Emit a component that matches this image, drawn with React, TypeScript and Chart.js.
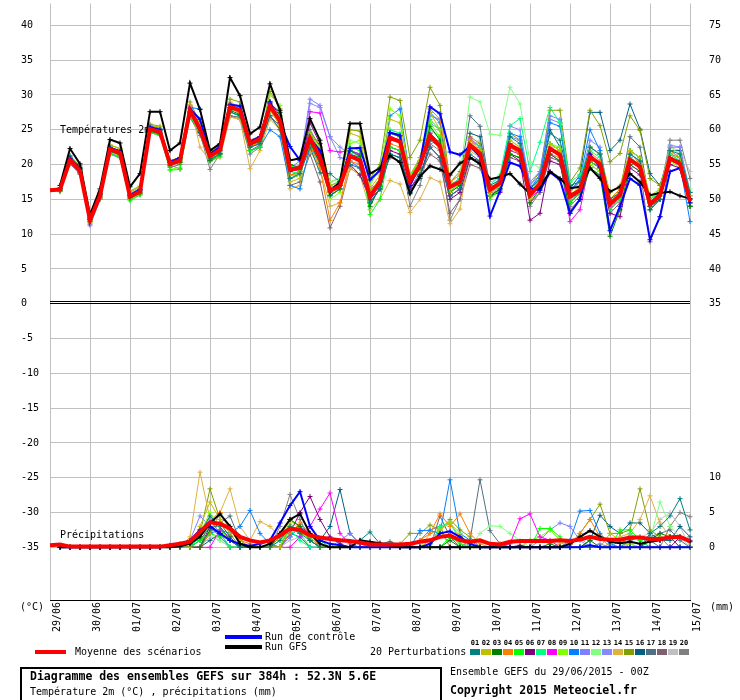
import React, { useEffect, useRef } from 'react';
import { Chart, registerables } from 'chart.js';

Chart.register(...registerables);

// ---------- categories / ticks ----------
const DAYS = ['29/06', '30/06', '01/07', '02/07', '03/07', '04/07', '05/07', '06/07', '07/07', '08/07', '09/07', '10/07', '11/07', '12/07', '13/07', '14/07', '15/07'];
const HOURS = ['00Z', '06Z', '12Z', '18Z'];
const LEFT_TICKS = [40, 35, 30, 25, 20, 15, 10, 5, 0, -5, -10, -15, -20, -25, -30, -35];
const RIGHT_TICKS = [75, 70, 65, 60, 55, 50, 45, 40, 35, 10, 5, 0];
const PERT_NAMES = ['01', '02', '03', '04', '05', '06', '07', '08', '09', '10', '11', '12', '13', '14', '15', '16', '17', '18', '19', '20'];
const PERT_COLORS = ['#008080', '#c0c000', '#008000', '#ff8000', '#00ff00', '#800080', '#00ff80', '#ff00ff', '#80ff00', '#0080ff', '#8080ff', '#80ff80', '#8888ff', '#e0b040', '#80a000', '#006080', '#507080', '#806070', '#c0c0c0', '#808080'];

// ---------- temperature 2m (°C) ----------
const TEMP_MEAN = [16.3, 16.4, 20.6, 19.1, 12.0, 15.5, 22.2, 21.7, 15.4, 16.1, 25.1, 24.7, 20.1, 20.6, 27.8, 25.1, 21.2, 22.1, 28.3, 27.8, 23.0, 23.7, 28.4, 26.3, 19.3, 19.5, 23.8, 21.0, 16.2, 16.9, 21.2, 20.6, 15.4, 17.5, 23.8, 23.3, 17.6, 19.9, 24.2, 22.6, 16.8, 17.5, 22.8, 21.6, 16.4, 17.3, 22.8, 22.0, 15.6, 17.3, 22.3, 21.4, 15.4, 16.3, 21.1, 20.1, 14.3, 15.6, 20.7, 19.7, 14.3, 15.6, 20.9, 20.1, 14.7];
const TEMP_GFS = [null, 17.0, 22.3, 20.1, 12.8, 16.5, 23.6, 23.1, 16.8, 18.7, 27.6, 27.6, 22.0, 23.1, 31.7, 27.9, 22.0, 23.0, 32.5, 29.9, 24.4, 25.4, 31.6, 27.8, 20.6, 20.9, 26.6, 23.5, 16.1, 17.5, 25.9, 25.9, 18.7, 19.5, 21.3, 20.3, 15.8, 18.3, 19.8, 19.3, 18.5, 20.2, 21.0, 20.1, 17.9, 18.2, 18.7, 17.2, 15.8, 16.8, 19.0, 18.0, 16.6, 16.8, 19.5, 18.0, 16.1, 16.8, 18.7, 17.5, 15.6, 15.9, 16.1, 15.5, 15.1];
const TEMP_CTRL = [null, 16.6, 20.9, 19.4, 12.2, 15.8, 22.4, 21.9, 15.6, 16.4, 25.4, 25.0, 20.3, 21.0, 28.0, 26.5, 21.5, 22.6, 28.6, 28.4, 23.3, 24.0, 29.0, 26.0, 22.6, 20.6, 23.8, 22.0, 16.3, 17.0, 22.3, 22.4, 17.8, 19.2, 24.6, 24.2, 17.0, 20.2, 28.3, 27.3, 21.8, 21.4, 22.6, 21.2, 12.6, 16.2, 20.3, 19.8, 16.6, 16.3, 18.9, 17.8, 13.0, 15.0, 21.5, 19.6, 10.5, 14.0, 18.0, 17.0, 9.2, 12.5, 19.0, 19.5, 14.5];
const TEMP_P01 = [null, 16.6, 21.2, 19.6, 12.4, 15.8, 22.5, 21.9, 15.7, 16.4, 25.3, 25.0, 20.5, 21.0, 27.5, 24.6, 20.8, 21.5, 27.6, 27.0, 22.5, 23.0, 27.0, 25.0, 18.0, 18.7, 22.5, 18.8, 18.7, 17.5, 20.0, 19.5, 14.5, 16.5, 21.5, 21.0, 16.0, 18.5, 22.5, 21.0, 15.5, 16.5, 21.5, 20.5, 17.0, 17.8, 24.0, 23.0, 16.5, 18.0, 24.5, 23.5, 17.0, 17.5, 22.5, 21.5, 15.0, 16.0, 21.5, 20.5, 14.0, 15.0, 22.0, 21.5, 16.0];
const TEMP_P02 = [null, 16.5, 20.9, 19.5, 12.6, 16.0, 22.8, 22.3, 16.0, 16.8, 25.6, 25.4, 20.4, 20.8, 28.5, 25.8, 21.8, 22.8, 29.0, 28.2, 23.5, 24.0, 28.0, 25.5, 17.5, 18.0, 24.5, 22.5, 17.0, 17.5, 24.5, 24.0, 16.5, 18.5, 26.5, 26.0, 18.5, 21.0, 27.5, 25.0, 16.0, 17.5, 23.0, 22.0, 15.5, 17.0, 23.5, 22.5, 15.0, 17.0, 23.0, 22.0, 15.5, 17.0, 22.5, 21.5, 16.0, 17.0, 22.0, 21.0, 15.5, 16.5, 22.0, 21.0, 15.5];
const TEMP_P03 = [null, 16.3, 20.5, 18.9, 11.8, 15.2, 21.9, 21.4, 15.2, 15.9, 24.8, 24.4, 19.9, 20.3, 27.5, 24.7, 20.6, 21.6, 27.8, 27.2, 22.8, 23.3, 28.8, 27.5, 20.0, 19.6, 23.2, 20.2, 15.6, 16.5, 22.0, 21.2, 14.0, 16.8, 24.5, 24.0, 17.0, 19.5, 25.5, 23.5, 16.0, 17.0, 22.5, 21.5, 15.5, 16.5, 21.5, 21.0, 14.5, 16.5, 21.5, 20.5, 13.0, 15.0, 19.5, 18.5, 9.7, 13.5, 20.0, 19.0, 13.5, 15.0, 21.0, 20.5, 14.0];
const TEMP_P04 = [null, 16.2, 20.3, 18.8, 11.9, 15.4, 22.0, 21.5, 15.3, 16.0, 25.0, 24.5, 20.0, 20.5, 27.2, 24.8, 21.0, 22.0, 28.0, 27.5, 22.6, 23.2, 27.8, 25.8, 18.5, 18.8, 22.8, 19.5, 12.0, 14.5, 20.5, 20.0, 16.0, 18.0, 23.0, 22.5, 18.0, 20.5, 28.0, 26.5, 17.5, 18.5, 23.5, 22.0, 16.0, 17.0, 22.5, 21.5, 15.5, 17.5, 22.5, 21.0, 16.0, 17.5, 21.8, 20.5, 15.0, 16.5, 21.8, 20.0, 14.5, 16.0, 21.0, 20.0, 14.5];
const TEMP_P05 = [null, 16.2, 20.7, 19.2, 12.2, 15.3, 21.5, 21.0, 14.8, 15.6, 24.6, 24.2, 19.2, 19.3, 27.0, 24.5, 20.5, 21.2, 27.5, 27.0, 22.0, 22.5, 28.5, 26.8, 20.0, 19.0, 24.5, 22.0, 16.5, 17.0, 22.5, 22.0, 12.8, 15.0, 22.5, 22.0, 18.0, 21.0, 26.5, 25.0, 16.0, 17.0, 23.0, 22.0, 15.0, 16.5, 21.5, 21.0, 16.0, 18.0, 23.0, 22.0, 14.5, 16.0, 20.5, 19.5, 13.5, 15.0, 22.0, 21.0, 14.0, 15.5, 21.0, 20.0, 14.0];
const TEMP_P06 = [null, 16.4, 20.4, 18.9, 12.1, 15.6, 22.0, 21.5, 15.5, 16.2, 25.0, 24.6, 20.2, 20.7, 27.6, 25.0, 21.5, 22.2, 28.5, 28.0, 23.5, 24.0, 29.0, 27.0, 19.0, 19.5, 26.0, 23.0, 16.5, 17.5, 20.0, 18.5, 15.0, 16.5, 22.0, 21.5, 16.5, 18.5, 22.5, 21.0, 15.0, 16.0, 21.0, 20.5, 15.5, 16.0, 21.5, 20.5, 12.0, 13.0, 20.5, 20.0, 14.5, 16.0, 20.5, 19.5, 13.0, 12.5, 19.5, 18.5, 14.0, 15.0, 20.0, 19.5, 14.0];
const TEMP_P07 = [null, 16.5, 21.0, 19.4, 12.3, 15.7, 22.3, 21.8, 15.6, 16.3, 25.2, 24.9, 20.3, 20.9, 28.0, 25.3, 21.4, 22.4, 28.6, 28.3, 23.3, 24.0, 28.0, 26.5, 19.0, 18.7, 24.0, 21.5, 16.8, 17.8, 22.0, 21.0, 16.0, 18.0, 25.0, 24.5, 18.5, 20.5, 25.0, 24.0, 17.0, 18.0, 23.5, 22.5, 17.0, 18.5, 25.6, 26.6, 19.0, 23.2, 28.2, 26.0, 17.5, 18.5, 22.0, 21.0, 15.0, 16.5, 21.0, 20.0, 15.0, 16.0, 21.5, 20.5, 15.5];
const TEMP_P08 = [null, 16.4, 20.8, 19.2, 12.2, 15.6, 22.4, 21.9, 15.5, 16.3, 25.3, 24.9, 20.4, 20.9, 28.4, 25.6, 21.2, 22.0, 28.8, 28.4, 22.5, 23.0, 28.5, 26.5, 19.0, 19.3, 27.6, 27.4, 22.0, 21.8, 22.0, 21.5, 16.5, 17.5, 24.0, 23.5, 17.0, 19.5, 24.5, 23.0, 15.5, 16.5, 23.8, 22.5, 15.5, 16.5, 22.0, 21.5, 15.0, 16.5, 21.5, 20.5, 11.8, 13.5, 20.5, 19.5, 14.0, 15.5, 20.0, 19.0, 14.5, 16.0, 22.0, 21.0, 15.0];
const TEMP_P09 = [null, 16.3, 20.5, 18.8, 11.7, 15.2, 21.8, 21.3, 15.0, 15.8, 24.8, 24.4, 19.3, 19.6, 27.2, 24.8, 20.8, 21.8, 28.0, 27.5, 23.0, 23.5, 30.0, 28.5, 18.0, 18.5, 23.5, 21.5, 15.0, 16.0, 23.0, 23.5, 17.0, 19.5, 28.0, 27.0, 17.5, 19.0, 26.0, 24.0, 16.5, 17.0, 23.0, 22.0, 15.5, 16.5, 22.0, 21.5, 15.5, 17.0, 23.0, 22.5, 14.5, 16.0, 20.0, 19.0, 14.5, 15.5, 20.5, 19.5, 15.0, 16.0, 20.5, 19.5, 14.5];
const TEMP_P10 = [null, 16.6, 21.0, 19.5, 12.3, 15.9, 22.5, 22.0, 15.8, 16.6, 25.6, 25.2, 20.5, 21.0, 28.2, 28.0, 21.5, 22.0, 27.5, 27.0, 22.0, 22.5, 25.0, 24.0, 17.0, 16.5, 22.5, 20.5, 15.5, 16.5, 22.0, 21.5, 16.0, 18.0, 27.0, 28.0, 18.0, 20.0, 27.5, 26.0, 16.0, 17.5, 22.5, 21.5, 16.0, 18.0, 24.5, 24.0, 16.5, 18.5, 26.0, 25.5, 16.0, 18.0, 25.0, 22.0, 15.0, 16.5, 21.5, 20.5, 13.5, 15.0, 21.0, 20.0, 11.8];
const TEMP_P11 = [null, 16.5, 20.4, 18.9, 11.4, 15.0, 21.6, 21.2, 15.0, 16.0, 25.0, 24.6, 20.0, 20.5, 27.5, 25.0, 21.0, 22.0, 28.5, 28.5, 23.0, 23.5, 28.0, 25.5, 19.5, 20.5, 29.4, 28.5, 24.0, 21.0, 20.5, 19.5, 15.0, 17.0, 24.0, 23.5, 16.5, 19.0, 27.0, 26.5, 17.0, 18.0, 23.5, 22.5, 16.0, 17.5, 24.0, 23.5, 17.5, 19.0, 27.0, 26.5, 16.5, 17.5, 23.5, 22.5, 14.5, 16.0, 22.0, 21.0, 15.0, 16.0, 22.5, 22.5, 16.0];
const TEMP_P12 = [null, 16.4, 20.6, 19.1, 12.0, 15.5, 22.0, 21.6, 15.3, 16.0, 25.0, 24.6, 20.0, 20.5, 27.6, 25.0, 21.0, 21.8, 28.0, 27.5, 22.5, 23.0, 27.5, 26.0, 18.5, 18.5, 23.0, 20.5, 17.5, 18.0, 23.5, 23.0, 17.5, 19.0, 25.0, 24.5, 18.0, 20.5, 25.5, 24.0, 17.5, 18.5, 29.7, 29.0, 24.4, 24.2, 31.1, 28.7, 20.4, 19.5, 23.0, 22.0, 15.5, 16.5, 20.5, 19.5, 14.5, 16.0, 20.5, 20.0, 15.0, 16.5, 22.5, 21.5, 16.5];
const TEMP_P13 = [null, 16.2, 20.2, 18.7, 11.2, 15.0, 21.5, 21.0, 15.0, 15.8, 24.8, 24.4, 19.8, 20.4, 27.0, 24.8, 21.0, 21.8, 28.0, 28.0, 23.5, 24.0, 28.8, 27.5, 19.5, 19.8, 28.8, 28.2, 24.0, 22.5, 21.5, 20.0, 16.0, 18.0, 24.5, 24.0, 18.0, 20.5, 26.0, 25.0, 16.5, 17.5, 23.0, 22.0, 15.5, 17.0, 25.5, 25.0, 17.0, 18.5, 26.5, 26.0, 15.0, 16.5, 22.5, 21.5, 13.5, 15.0, 21.0, 20.0, 14.5, 15.5, 22.8, 22.5, 15.5];
const TEMP_P14 = [null, 16.2, 20.3, 18.7, 11.8, 15.3, 21.7, 21.2, 15.1, 15.8, 25.0, 24.6, 19.8, 20.3, 28.6, 22.5, 20.5, 21.0, 26.8, 26.5, 19.4, 22.0, 26.5, 25.0, 16.5, 17.0, 22.0, 19.5, 14.0, 14.5, 19.5, 18.5, 13.5, 15.0, 17.7, 17.2, 13.1, 15.0, 18.1, 17.5, 11.5, 13.6, 22.0, 21.0, 16.5, 17.5, 22.5, 22.0, 15.0, 17.0, 21.5, 21.0, 15.0, 16.5, 22.5, 21.5, 15.0, 16.0, 22.0, 21.0, 14.5, 16.0, 21.5, 20.5, 15.0];
const TEMP_P15 = [null, 16.7, 21.3, 19.8, 12.5, 16.2, 22.8, 22.3, 16.2, 16.9, 25.8, 25.5, 20.6, 21.0, 29.0, 26.0, 21.8, 22.8, 29.4, 29.0, 23.0, 23.5, 30.5, 28.0, 18.5, 18.5, 24.5, 23.0, 17.5, 18.0, 25.0, 24.8, 18.0, 20.0, 29.7, 29.2, 21.0, 23.5, 31.1, 28.5, 17.5, 19.0, 24.0, 23.0, 16.5, 18.0, 24.5, 23.5, 17.0, 19.0, 27.8, 27.8, 17.5, 19.5, 27.8, 25.6, 20.4, 21.6, 27.0, 24.9, 18.0, 17.0, 21.5, 21.0, 16.0];
const TEMP_P16 = [null, 16.5, 20.7, 19.3, 12.1, 15.7, 22.1, 21.6, 15.6, 16.2, 25.2, 24.8, 20.4, 20.8, 27.7, 25.3, 21.6, 22.3, 28.2, 27.5, 22.8, 23.4, 28.0, 26.0, 18.0, 18.5, 24.0, 21.5, 16.0, 17.0, 21.5, 21.0, 14.5, 16.5, 21.5, 21.0, 16.0, 18.0, 23.5, 22.5, 15.5, 16.5, 24.5, 24.0, 16.0, 17.0, 23.0, 22.0, 16.5, 18.0, 25.0, 22.5, 16.5, 18.5, 27.5, 27.5, 22.0, 23.5, 28.7, 25.1, 18.7, 17.0, 22.0, 22.0, 14.0];
const TEMP_P17 = [null, 16.3, 20.5, 19.0, 12.0, 15.4, 22.0, 21.5, 15.4, 16.0, 24.9, 24.5, 20.0, 20.4, 27.3, 24.9, 21.2, 22.0, 28.2, 27.7, 23.0, 23.5, 28.5, 26.5, 19.5, 19.8, 25.0, 22.5, 15.5, 16.5, 20.5, 19.5, 15.5, 17.5, 22.5, 22.0, 17.5, 19.5, 24.5, 23.0, 17.0, 18.0, 27.0, 25.5, 16.5, 17.5, 22.5, 21.5, 16.0, 17.5, 23.0, 22.0, 15.0, 16.0, 21.5, 20.0, 14.5, 16.0, 24.0, 22.5, 14.5, 16.0, 21.5, 20.5, 15.0];
const TEMP_P18 = [null, 16.1, 20.1, 18.6, 11.6, 15.0, 21.5, 21.0, 15.0, 15.7, 24.6, 24.2, 19.6, 20.0, 26.8, 24.2, 20.5, 21.4, 27.0, 26.8, 22.0, 22.8, 27.0, 25.5, 17.0, 17.5, 21.5, 17.5, 10.9, 14.0, 19.5, 18.5, 16.0, 17.5, 21.0, 20.5, 16.5, 18.5, 21.5, 20.5, 13.0, 15.0, 20.0, 19.5, 15.5, 16.5, 21.0, 20.5, 14.5, 16.0, 21.0, 20.5, 13.5, 15.0, 20.0, 19.0, 13.0, 14.5, 20.5, 19.5, 8.9, 12.5, 20.5, 20.0, 14.5];
const TEMP_P19 = [null, 16.4, 20.5, 19.0, 12.1, 15.5, 22.0, 21.5, 15.4, 16.0, 25.0, 24.6, 20.0, 20.5, 27.5, 24.9, 21.0, 22.0, 28.0, 27.5, 22.8, 23.5, 28.3, 26.3, 19.5, 19.8, 23.5, 21.0, 16.5, 17.0, 21.5, 21.0, 15.5, 17.5, 24.0, 23.5, 18.0, 20.0, 24.5, 23.0, 16.5, 17.5, 22.5, 23.5, 17.5, 18.0, 23.5, 22.5, 16.0, 17.5, 22.5, 22.5, 15.5, 16.5, 21.0, 20.0, 14.5, 15.5, 20.5, 19.5, 14.0, 15.5, 22.5, 22.0, 19.0];
const TEMP_P20 = [null, 16.2, 20.3, 18.8, 11.9, 15.3, 21.8, 21.3, 15.2, 15.9, 24.7, 24.3, 19.9, 19.4, 27.0, 24.5, 19.3, 21.5, 27.0, 26.5, 21.5, 22.5, 27.0, 25.0, 18.5, 19.0, 23.0, 20.0, 17.0, 17.5, 22.0, 21.5, 14.5, 16.5, 22.5, 22.0, 14.0, 17.0, 23.0, 22.0, 12.0, 15.0, 21.0, 20.0, 16.0, 17.0, 23.0, 22.0, 14.0, 16.0, 21.5, 21.0, 14.0, 15.5, 21.0, 20.0, 13.5, 15.5, 20.5, 20.0, 14.5, 16.0, 23.5, 23.5, 18.0];

// ---------- precipitation (mm) ----------
const PRECIP_MEAN = [0.3, 0.4, 0.1, 0.1, 0.1, 0.1, 0.1, 0.1, 0.1, 0.1, 0.1, 0.1, 0.3, 0.5, 0.8, 2.2, 3.6, 3.4, 2.7, 1.5, 1.0, 0.7, 1.0, 1.7, 2.7, 2.5, 1.7, 1.4, 1.2, 1.0, 0.9, 0.7, 0.4, 0.4, 0.4, 0.4, 0.5, 0.8, 1.0, 1.5, 1.7, 1.0, 0.8, 1.0, 0.5, 0.4, 0.8, 0.9, 0.9, 0.9, 0.9, 1.0, 0.9, 1.1, 1.5, 1.2, 1.1, 1.1, 1.4, 1.4, 1.2, 1.2, 1.4, 1.5, 0.9];
const PRECIP_GFS = [null, 0, 0, 0, 0, 0, 0, 0, 0, 0, 0, 0, 0, 0.2, 0.5, 1.5, 3.5, 4.8, 3.0, 0.5, 0, 0, 0.5, 2.0, 4.0, 4.8, 2.0, 0.5, 0, 0, 0, 1.0, 0.8, 0.6, 0.3, 0, 0, 0, 0, 0, 0, 0, 0, 0, 0, 0, 0, 0, 0, 0, 0, 0, 0.5, 1.5, 2.4, 1.5, 0.8, 0.6, 0.8, 0.5, 0.8, 1.0, 1.5, 1.5, 0.8];
const PRECIP_CTRL = [null, 0, 0, 0, 0, 0, 0, 0, 0, 0, 0, 0, 0.3, 0.5, 1.0, 2.5, 3.0, 2.0, 1.0, 0.5, 0.2, 0.5, 1.0, 3.5, 6.0, 8.0, 3.0, 1.0, 0.5, 0.3, 0, 0, 0, 0, 0, 0, 0, 0, 0.5, 2.0, 2.3, 1.5, 0.5, 0, 0, 0, 0, 0, 0, 0, 0, 0, 0, 0, 0.3, 0, 0, 0, 0, 0, 0, 0, 0, 0, 0];
const PRECIP_P01 = [null, 0, 0, 0, 0, 0, 0, 0, 0, 0, 0, 0, 0, 0, 0.5, 2.0, 4.5, 3.0, 1.0, 0, 0, 0, 0, 1.0, 3.0, 2.0, 1.0, 0, 0, 0, 0, 1.0, 2.2, 0.5, 0.8, 0.3, 0, 0, 0, 0, 0, 0, 0, 0, 0, 0, 0, 0, 0, 0, 0, 0, 0, 0, 0, 0, 0, 0, 0, 0, 2.0, 3.0, 4.5, 7.0, 2.5];
const PRECIP_P02 = [null, 0, 0, 0, 0, 0, 0, 0, 0, 0, 0, 0, 0, 0, 0, 3.0, 6.5, 4.0, 2.0, 1.0, 0, 0, 0, 0, 3.5, 2.0, 1.5, 0, 0, 0, 0, 0, 0, 0, 0, 0, 0, 0, 1.0, 2.5, 3.5, 1.5, 0, 0, 0, 0, 0, 0, 0, 0, 0, 0, 0, 0, 0, 0, 2.0, 1.0, 0, 0, 0, 0, 0, 0, 0];
const PRECIP_P03 = [null, 0, 0, 0, 0, 0, 0, 0, 0, 0, 0, 0, 0, 0, 0, 0, 2.5, 3.5, 1.5, 0, 0, 0, 0, 2.0, 4.0, 3.0, 1.0, 0, 0, 0, 0, 0, 0, 0, 0, 0, 0, 0, 0, 0, 1.0, 0, 0, 0, 0, 0, 0, 0, 0, 0, 0.5, 0, 0, 0, 1.0, 0, 0, 0, 0, 0, 1.0, 2.0, 1.5, 0, 0];
const PRECIP_P04 = [null, 0, 0, 0, 0, 0, 0, 0, 0, 0, 0, 0, 0, 0, 0, 0, 2.0, 5.0, 2.5, 1.0, 0.5, 0, 0, 0, 2.0, 3.5, 2.0, 0, 0, 0, 0, 0, 0, 0, 0, 0, 0, 1.0, 2.0, 4.8, 3.0, 4.8, 2.0, 0.5, 0, 0, 0, 0, 0, 0, 0, 0, 0, 2.0, 4.0, 1.5, 0, 0, 0, 0, 0, 0, 0, 0, 0];
const PRECIP_P05 = [null, 0, 0, 0, 0, 0, 0, 0, 0, 0, 0, 0, 0, 0, 0, 1.0, 2.0, 1.5, 0, 0, 0, 0, 0, 0, 3.0, 2.0, 1.5, 1.0, 0, 0, 0, 0, 0, 0, 0, 0, 0, 0, 0, 0, 1.5, 0.5, 0, 0, 0, 0, 0, 0, 0, 2.7, 2.7, 1.5, 0, 0, 0, 0, 0, 2.5, 2.5, 1.0, 0, 0, 0, 0, 0];
const PRECIP_P06 = [null, 0, 0, 0, 0, 0, 0, 0, 0, 0, 0, 0, 0, 0, 0, 0, 3.0, 2.0, 1.0, 0, 0, 0, 0, 0, 2.0, 5.0, 7.3, 4.0, 1.5, 0.5, 0, 0, 0, 0, 0, 0, 0, 0, 0, 0, 0, 0, 0, 0, 0, 0, 0, 0.3, 0, 0, 0, 0, 0, 0, 0, 0, 0, 0, 0, 0, 0, 0, 0, 1.5, 1.0];
const PRECIP_P07 = [null, 0, 0, 0, 0, 0, 0, 0, 0, 0, 0, 0, 0, 0, 0, 1.5, 3.0, 2.0, 0, 0, 0, 0, 0, 1.0, 2.5, 1.0, 0, 0, 0, 0, 0, 0, 0, 0, 0, 0, 0, 0, 0, 3.0, 3.5, 1.0, 0, 0, 0, 0, 0, 0, 0, 0, 0, 0, 0, 0, 0, 0, 0, 0, 2.0, 1.0, 0, 0, 0, 0, 0];
const PRECIP_P08 = [null, 0, 0, 0, 0, 0, 0, 0, 0, 0, 0, 0, 0, 0, 0, 0, 0, 2.5, 1.5, 0, 0, 0, 0, 0, 0, 1.5, 3.0, 5.5, 7.8, 2.0, 0.5, 0, 0, 0, 0, 0, 0, 0, 0, 0, 0, 0, 0, 0, 0, 0, 0.5, 4.1, 4.8, 1.5, 1.0, 0, 0, 0, 0, 0, 0, 0, 0, 0, 0, 0, 0, 0, 0];
const PRECIP_P09 = [null, 0, 0, 0, 0, 0, 0, 0, 0, 0, 0, 0, 0, 0, 0, 2.0, 5.0, 2.5, 1.0, 0, 0, 0, 0, 0, 4.0, 2.5, 1.0, 0, 0, 0, 0, 0, 0, 0, 0, 0, 0, 0, 0, 2.5, 3.5, 2.0, 0, 0, 0, 0, 0, 0, 1.0, 1.5, 2.5, 1.0, 0, 0, 0, 0, 0, 0, 0.5, 0, 0, 0, 0, 0, 0];
const PRECIP_P10 = [null, 0, 0, 0, 0, 0, 0, 0, 0, 0, 0, 0, 0, 0, 0, 1.0, 2.0, 2.5, 2.0, 3.0, 5.3, 2.0, 0.5, 0, 2.0, 1.5, 0, 0, 0, 0, 0, 0, 0, 0, 0, 0, 0, 2.4, 2.4, 2.0, 9.7, 2.0, 1.0, 0, 0, 0, 0, 0, 0, 0, 0, 0, 1.0, 5.2, 5.3, 2.0, 0.5, 0, 0, 0, 0, 0, 0, 0, 0];
const PRECIP_P11 = [null, 0, 0, 0, 0, 0, 0, 0, 0, 0, 0, 0, 0, 0, 1.0, 4.5, 3.0, 1.5, 0, 0, 0, 0, 0, 0, 1.5, 3.0, 1.5, 0, 0, 1.0, 2.0, 0.5, 0, 0, 0, 0, 0, 0, 0, 0, 0, 0, 0, 0, 0, 0, 0, 0, 0, 1.0, 2.5, 3.5, 3.0, 1.0, 0, 0.5, 0, 0, 0, 0, 0, 0, 0, 0, 0];
const PRECIP_P12 = [null, 0, 0, 0, 0, 0, 0, 0, 0, 0, 0, 0, 0, 0, 0, 0, 2.0, 1.0, 0, 0, 0, 0, 0, 0, 2.5, 2.0, 0, 0, 0, 0, 0, 0, 0, 0, 0, 0, 0, 0, 0, 0, 0, 0, 0, 2.0, 3.1, 3.0, 2.0, 1.0, 0, 0, 0, 0, 0, 0, 0, 0, 0, 0, 0, 0, 1.0, 6.5, 3.0, 1.5, 0];
const PRECIP_P13 = [null, 0, 0, 0, 0, 0, 0, 0, 0, 0, 0, 0, 0, 0, 0, 2.5, 4.0, 2.0, 0, 0, 0, 0, 0, 2.0, 3.0, 2.0, 0, 0, 0, 0, 0, 1.0, 0.5, 0, 0, 0, 0, 0, 0, 0, 0, 0, 0, 0, 0, 0, 0, 0, 0, 0, 0, 0, 0, 0, 0, 0, 0, 1.0, 0.5, 0, 0, 0, 0, 0, 0];
const PRECIP_P14 = [null, 0, 0, 0, 0, 0, 0, 0, 0, 0, 0, 0, 0, 0, 1.5, 10.8, 4.0, 5.0, 8.4, 3.0, 1.0, 3.7, 3.0, 1.5, 2.0, 2.5, 1.0, 0, 0, 0, 0, 0, 0, 0, 0, 0, 0, 0, 2.0, 2.5, 0, 0, 0, 0, 0, 0, 0, 0, 0, 0, 0, 0.5, 0.8, 1.5, 0, 0, 0.5, 1.5, 2.0, 4.0, 7.4, 3.5, 1.5, 0, 0];
const PRECIP_P15 = [null, 0, 0, 0, 0, 0, 0, 0, 0, 0, 0, 0, 0, 0, 0, 2.0, 8.4, 4.0, 2.0, 0, 0, 0, 0, 1.5, 4.0, 3.0, 1.0, 0, 0, 0, 0, 0, 0, 0, 0, 0.5, 2.0, 2.0, 3.2, 2.5, 4.0, 2.5, 1.5, 0, 0, 0, 0, 0, 0, 0, 0, 0, 0.5, 2.0, 4.0, 6.2, 2.0, 2.0, 2.5, 8.4, 2.5, 1.5, 0, 0, 0];
const PRECIP_P16 = [null, 0, 0, 0, 0, 0, 0, 0, 0, 0, 0, 0, 0, 0, 0, 0, 1.0, 2.0, 0, 0, 0, 0, 0, 0, 1.5, 3.0, 2.0, 1.0, 3.0, 8.3, 2.0, 0.5, 0.5, 0.3, 0, 0, 0, 0, 0, 0, 0, 0, 0, 0, 0, 0, 0, 0, 0, 0, 0, 0, 0, 0, 1.0, 4.6, 3.0, 2.0, 3.5, 3.5, 2.0, 1.0, 1.0, 3.0, 1.5];
const PRECIP_P17 = [null, 0, 0, 0, 0, 0, 0, 0, 0, 0, 0, 0, 0, 0, 0, 0, 2.0, 3.5, 4.5, 1.0, 0, 0, 0, 0, 3.0, 2.0, 0, 0, 0, 0, 0, 0, 0, 0, 0, 0, 0, 0, 0, 0, 0, 0, 1.0, 9.7, 2.4, 0.5, 0, 0, 0, 0, 0, 0, 0, 0, 0, 0, 0, 0, 0, 0, 1.5, 2.0, 2.5, 1.0, 0];
const PRECIP_P18 = [null, 0, 0, 0, 0, 0, 0, 0, 0, 0, 0, 0, 0, 0, 0, 1.0, 3.0, 1.5, 0, 0, 0, 0, 0, 0, 2.5, 3.0, 1.5, 0, 0, 0, 0, 0, 0, 0, 0, 0, 0, 0, 0, 4.5, 1.5, 0, 0, 0, 0, 0, 0, 0, 0, 0, 0, 0, 0, 0, 0, 0, 0, 0, 1.0, 1.5, 1.0, 0, 0, 0, 0];
const PRECIP_P19 = [null, 0, 0, 0, 0, 0, 0, 0, 0, 0, 0, 0, 0, 0, 0, 0, 1.5, 1.0, 0, 0, 0, 0, 0, 0, 1.0, 1.5, 0, 0, 0, 0, 0, 0, 0, 0, 0, 0, 0, 0, 0, 0, 0, 0, 0, 0, 0, 0, 0, 0, 1.0, 1.5, 1.0, 0, 0, 0, 0, 0, 0, 0, 1.0, 1.5, 2.0, 4.0, 5.0, 3.0, 0];
const PRECIP_P20 = [null, 0, 0, 0, 0, 0, 0, 0, 0, 0, 0, 0, 0, 0, 0, 0, 4.0, 2.0, 1.0, 0, 0, 0, 0, 3.0, 7.6, 4.0, 1.0, 0, 0, 0, 0, 0, 0, 0, 0, 0, 0, 1.0, 2.5, 3.0, 0, 0, 0, 0, 0, 0, 0, 0, 0, 0, 0, 0, 0, 0, 0, 0, 0, 0, 0, 0, 0, 0, 3.0, 5.0, 4.4];

const PERT_TEMP = [TEMP_P01, TEMP_P02, TEMP_P03, TEMP_P04, TEMP_P05, TEMP_P06, TEMP_P07, TEMP_P08, TEMP_P09, TEMP_P10, TEMP_P11, TEMP_P12, TEMP_P13, TEMP_P14, TEMP_P15, TEMP_P16, TEMP_P17, TEMP_P18, TEMP_P19, TEMP_P20];
const PERT_PRECIP = [PRECIP_P01, PRECIP_P02, PRECIP_P03, PRECIP_P04, PRECIP_P05, PRECIP_P06, PRECIP_P07, PRECIP_P08, PRECIP_P09, PRECIP_P10, PRECIP_P11, PRECIP_P12, PRECIP_P13, PRECIP_P14, PRECIP_P15, PRECIP_P16, PRECIP_P17, PRECIP_P18, PRECIP_P19, PRECIP_P20];

// ---------- texts ----------
const TXT_TEMP = 'Températures 2m';
const TXT_PRECIP = 'Précipitations';
const TXT_MEAN = 'Moyenne des scénarios';
const TXT_CTRL = 'Run de contrôle';
const TXT_GFS = 'Run GFS';
const TXT_PERT = '20 Perturbations';
const TXT_TITLE = 'Diagramme des ensembles GEFS sur 384h : 52.3N 5.6E';
const TXT_SUB = 'Température 2m (°C) , précipitations (mm)';
const TXT_RUN = 'Ensemble GEFS du 29/06/2015 - 00Z';
const TXT_COPY = 'Copyright 2015 Meteociel.fr';

const Y_MIN = -42.5714286;
const Y_MAX = 43.1428571;
const MM_OFFSET = 35;

const MONO = '"DejaVu Sans Mono", "Liberation Mono", monospace';

const overlayPlugin = {
  id: 'meteoOverlay',
  beforeDatasetsDraw(chart: any) {
    const { ctx, chartArea: a } = chart;
    const y = chart.scales.y;
    const y2 = chart.scales.y2;
    ctx.save();
    // double zero line
    const y0 = Math.round(y.getPixelForValue(0));
    ctx.strokeStyle = '#000';
    ctx.lineWidth = 1;
    ctx.beginPath();
    ctx.moveTo(a.left, y0 - 2.5);
    ctx.lineTo(a.right, y0 - 2.5);
    ctx.moveTo(a.left, y0 - 0.5);
    ctx.lineTo(a.right, y0 - 0.5);
    ctx.stroke();
    // section labels (under the curves)
    ctx.fillStyle = '#000';
    ctx.font = `10px ${MONO}`;
    ctx.textAlign = 'left';
    ctx.textBaseline = 'middle';
    ctx.fillText(TXT_TEMP, a.left + 10, y.getPixelForValue(24.86));
    ctx.fillText(TXT_PRECIP, a.left + 10, y2.getPixelForValue(1.7));
    ctx.restore();
  },
  afterDraw(chart: any) {
    const { ctx, chartArea: a } = chart;
    const x = chart.scales.x;
    const y = chart.scales.y;
    const y2 = chart.scales.y2;
    ctx.save();
    // bottom axis line
    ctx.strokeStyle = '#000';
    ctx.lineWidth = 1;
    ctx.beginPath();
    ctx.moveTo(a.left, a.bottom + 0.5);
    ctx.lineTo(a.right + 1, a.bottom + 0.5);
    ctx.stroke();

    ctx.fillStyle = '#000';
    ctx.font = `10px ${MONO}`;
    ctx.textBaseline = 'middle';
    ctx.textAlign = 'left';
    LEFT_TICKS.forEach((v) => ctx.fillText(String(v), 21, y.getPixelForValue(v)));
    RIGHT_TICKS.forEach((v) => ctx.fillText(String(v), a.right + 19, y2.getPixelForValue(v)));

    // date labels, rotated
    DAYS.forEach((d, k) => {
      const gx = x.getPixelForValue(k * 4);
      ctx.save();
      ctx.translate(gx + 7, a.bottom + 2);
      ctx.rotate(-Math.PI / 2);
      ctx.textAlign = 'right';
      ctx.textBaseline = 'middle';
      ctx.fillText(d, 0, 0);
      ctx.restore();
    });
    ctx.textAlign = 'left';
    ctx.fillText('(°C)', 20, a.bottom + 7);
    ctx.fillText('(mm)', a.right + 20, a.bottom + 7);

    // legend
    ctx.fillStyle = '#ff0000';
    ctx.fillRect(35, 650, 31, 4);
    ctx.fillStyle = '#0000ff';
    ctx.fillRect(225, 635, 37, 4);
    ctx.fillStyle = '#000';
    ctx.fillRect(225, 645, 37, 4);
    ctx.fillText(TXT_MEAN, 75, 652);
    ctx.fillText(TXT_CTRL, 265, 637);
    ctx.fillText(TXT_GFS, 265, 647);
    ctx.fillText(TXT_PERT, 370, 652);
    PERT_COLORS.forEach((c, k) => {
      const sx = 470 + k * 10.98;
      ctx.fillStyle = c;
      ctx.fillRect(Math.round(sx), 649, 10, 6);
      ctx.fillStyle = '#000';
      ctx.font = `bold 7px ${MONO}`;
      ctx.textAlign = 'center';
      ctx.fillText(PERT_NAMES[k], Math.round(sx) + 5, 643);
    });

    // footer
    ctx.textAlign = 'left';
    ctx.strokeStyle = '#000';
    ctx.lineWidth = 2;
    ctx.strokeRect(21, 668, 420, 40);
    ctx.fillStyle = '#000';
    ctx.font = `bold 11.5px ${MONO}`;
    ctx.fillText(TXT_TITLE, 30, 677);
    ctx.fillText(TXT_COPY, 450, 691);
    ctx.font = `10px ${MONO}`;
    ctx.fillText(TXT_SUB, 30, 692);
    ctx.fillText(TXT_RUN, 450, 672);
    ctx.restore();
  },
};

function lineDs(data: (number | null)[], color: string, width: number, axis: string, points: boolean) {
  return {
    data,
    yAxisID: axis,
    borderColor: color,
    backgroundColor: color,
    borderWidth: width,
    pointStyle: 'cross',
    pointRadius: points ? 2.5 : 0,
    pointBorderWidth: 1,
    pointBorderColor: color,
    pointHoverRadius: 0,
    fill: false,
    tension: 0,
  };
}

export default function App() {
  const ref = useRef<HTMLCanvasElement>(null);
  useEffect(() => {
    const labels = TEMP_MEAN.map((_, i) => `${DAYS[Math.floor(i / 4)]} ${HOURS[i % 4]}`);
    const datasets: any[] = [
      lineDs(TEMP_MEAN, '#ff0000', 4, 'y', false),
      lineDs(PRECIP_MEAN, '#ff0000', 4, 'y2', false),
      lineDs(TEMP_GFS, '#000000', 2, 'y', true),
      lineDs(PRECIP_GFS, '#000000', 2, 'y2', true),
      lineDs(TEMP_CTRL, '#0000ff', 2, 'y', true),
      lineDs(PRECIP_CTRL, '#0000ff', 2, 'y2', true),
    ];
    PERT_TEMP.forEach((d, k) => datasets.push(lineDs(d, PERT_COLORS[k], 1, 'y', true)));
    PERT_PRECIP.forEach((d, k) => datasets.push(lineDs(d, PERT_COLORS[k], 1, 'y2', true)));

    const chart = new Chart(ref.current as HTMLCanvasElement, {
      type: 'line',
      data: { labels, datasets },
      options: {
        animation: false,
        responsive: false,
        maintainAspectRatio: false,
        events: [],
        layout: { padding: { left: 50, right: 50, top: 0, bottom: 100 } },
        plugins: { legend: { display: false }, tooltip: { enabled: false } },
        scales: {
          x: {
            type: 'category',
            offset: false,
            ticks: { display: false, autoSkip: false },
            border: { display: false },
            grid: {
              drawTicks: false,
              color: (c: any) => (c.index % 4 === 0 ? '#c0c0c0' : 'rgba(0,0,0,0)'),
            },
          },
          y: {
            type: 'linear',
            position: 'left',
            min: Y_MIN,
            max: Y_MAX,
            ticks: { display: false, stepSize: 5 },
            border: { display: false },
            grid: {
              drawTicks: false,
              color: (c: any) => {
                const v = c.tick ? c.tick.value : NaN;
                const onStep = Math.abs(v / 5 - Math.round(v / 5)) < 1e-6;
                return v >= -35 && v <= 40 && v !== 0 && onStep ? '#c0c0c0' : 'rgba(0,0,0,0)';
              },
            },
          },
          y2: {
            type: 'linear',
            position: 'right',
            display: false,
            min: Y_MIN + MM_OFFSET,
            max: Y_MAX + MM_OFFSET,
          },
        },
      } as any,
      plugins: [overlayPlugin],
    });
    return () => chart.destroy();
  }, []);

  return (
    <div style={{ position: 'absolute', left: 0, top: 0, width: 740, height: 700, background: '#ffffff' }}>
      <canvas ref={ref} width={740} height={700} style={{ display: 'block', width: 740, height: 700 }} />
    </div>
  );
}
